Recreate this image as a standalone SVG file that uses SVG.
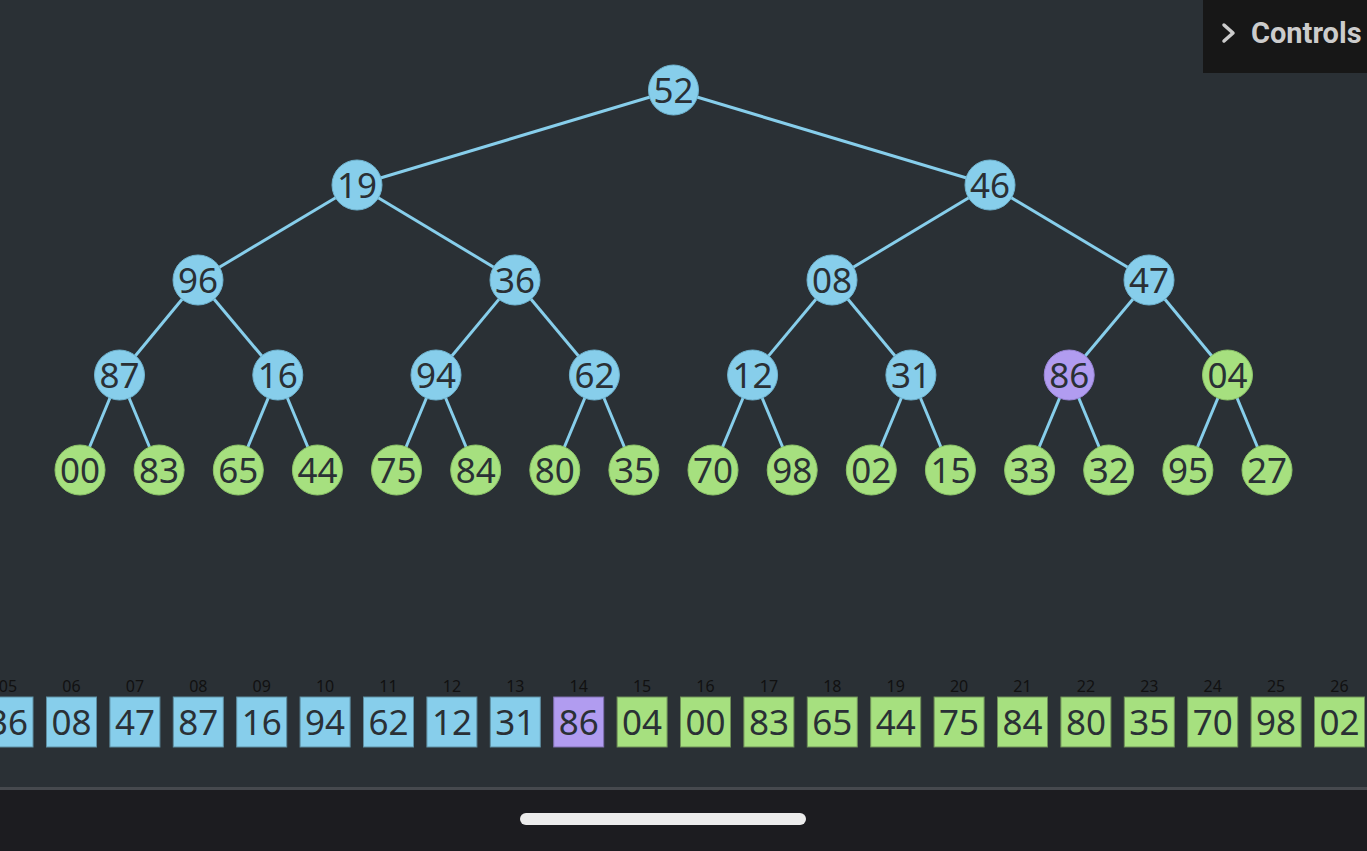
<svg xmlns="http://www.w3.org/2000/svg" width="1367" height="851" viewBox="0 0 1367 851">
<style>
.edge{stroke:#87ceeb;stroke-width:3;fill:none}
.nb{fill:#87ceeb;stroke:#6fb3cf;stroke-width:1}
.ng{fill:#a6e07f;stroke:#8cc468;stroke-width:1}
.np{fill:#b19cf0;stroke:#9a86d8;stroke-width:1}
.t{font-family:"Noto Sans","DejaVu Sans",sans-serif;font-size:35px;fill:#2a3035;text-anchor:middle}
.bb{fill:#87ceeb;stroke:#5e8fa3;stroke-width:1}
.bg{fill:#a6e07f;stroke:#6f8f58;stroke-width:1}
.bp{fill:#b19cf0;stroke:#7e6fb0;stroke-width:1}
.idx{font-family:"Noto Sans","DejaVu Sans",sans-serif;font-size:16px;fill:#111;text-anchor:middle}
</style>
<rect width="1367" height="851" fill="#2a3035"/>
<g id="connectors">
<line class="edge" x1="673.5" y1="90" x2="357" y2="185"/>
<line class="edge" x1="673.5" y1="90" x2="990" y2="185"/>
<line class="edge" x1="357" y1="185" x2="198" y2="280"/>
<line class="edge" x1="357" y1="185" x2="515" y2="280"/>
<line class="edge" x1="990" y1="185" x2="832" y2="280"/>
<line class="edge" x1="990" y1="185" x2="1149" y2="280"/>
<line class="edge" x1="198" y1="280" x2="119.5" y2="375"/>
<line class="edge" x1="198" y1="280" x2="277.8" y2="375"/>
<line class="edge" x1="515" y1="280" x2="436" y2="375"/>
<line class="edge" x1="515" y1="280" x2="594.4" y2="375"/>
<line class="edge" x1="832" y1="280" x2="752.6" y2="375"/>
<line class="edge" x1="832" y1="280" x2="910.9" y2="375"/>
<line class="edge" x1="1149" y1="280" x2="1069.2" y2="375"/>
<line class="edge" x1="1149" y1="280" x2="1227.5" y2="375"/>
<line class="edge" x1="119.5" y1="375" x2="80" y2="470"/>
<line class="edge" x1="119.5" y1="375" x2="159.1" y2="470"/>
<line class="edge" x1="277.8" y1="375" x2="238.3" y2="470"/>
<line class="edge" x1="277.8" y1="375" x2="317.4" y2="470"/>
<line class="edge" x1="436" y1="375" x2="396.5" y2="470"/>
<line class="edge" x1="436" y1="375" x2="475.7" y2="470"/>
<line class="edge" x1="594.4" y1="375" x2="554.8" y2="470"/>
<line class="edge" x1="594.4" y1="375" x2="633.9" y2="470"/>
<line class="edge" x1="752.6" y1="375" x2="713" y2="470"/>
<line class="edge" x1="752.6" y1="375" x2="792.2" y2="470"/>
<line class="edge" x1="910.9" y1="375" x2="871.3" y2="470"/>
<line class="edge" x1="910.9" y1="375" x2="950.4" y2="470"/>
<line class="edge" x1="1069.2" y1="375" x2="1029.6" y2="470"/>
<line class="edge" x1="1069.2" y1="375" x2="1108.7" y2="470"/>
<line class="edge" x1="1227.5" y1="375" x2="1187.9" y2="470"/>
<line class="edge" x1="1227.5" y1="375" x2="1267" y2="470"/>
</g>
<g id="n0"><circle class="nb" cx="673.5" cy="90" r="25"/><text class="t" x="673.5" y="102.5">52</text></g>
<g id="n1"><circle class="nb" cx="357" cy="185" r="25"/><text class="t" x="357" y="197.5">19</text></g>
<g id="n2"><circle class="nb" cx="990" cy="185" r="25"/><text class="t" x="990" y="197.5">46</text></g>
<g id="n3"><circle class="nb" cx="198" cy="280" r="25"/><text class="t" x="198" y="292.5">96</text></g>
<g id="n4"><circle class="nb" cx="515" cy="280" r="25"/><text class="t" x="515" y="292.5">36</text></g>
<g id="n5"><circle class="nb" cx="832" cy="280" r="25"/><text class="t" x="832" y="292.5">08</text></g>
<g id="n6"><circle class="nb" cx="1149" cy="280" r="25"/><text class="t" x="1149" y="292.5">47</text></g>
<g id="n7"><circle class="nb" cx="119.5" cy="375" r="25"/><text class="t" x="119.5" y="387.5">87</text></g>
<g id="n8"><circle class="nb" cx="277.8" cy="375" r="25"/><text class="t" x="277.8" y="387.5">16</text></g>
<g id="n9"><circle class="nb" cx="436" cy="375" r="25"/><text class="t" x="436" y="387.5">94</text></g>
<g id="n10"><circle class="nb" cx="594.4" cy="375" r="25"/><text class="t" x="594.4" y="387.5">62</text></g>
<g id="n11"><circle class="nb" cx="752.6" cy="375" r="25"/><text class="t" x="752.6" y="387.5">12</text></g>
<g id="n12"><circle class="nb" cx="910.9" cy="375" r="25"/><text class="t" x="910.9" y="387.5">31</text></g>
<g id="n13"><circle class="np" cx="1069.2" cy="375" r="25"/><text class="t" x="1069.2" y="387.5">86</text></g>
<g id="n14"><circle class="ng" cx="1227.5" cy="375" r="25"/><text class="t" x="1227.5" y="387.5">04</text></g>
<g id="n15"><circle class="ng" cx="80" cy="470" r="25"/><text class="t" x="80" y="482.5">00</text></g>
<g id="n16"><circle class="ng" cx="159.1" cy="470" r="25"/><text class="t" x="159.1" y="482.5">83</text></g>
<g id="n17"><circle class="ng" cx="238.3" cy="470" r="25"/><text class="t" x="238.3" y="482.5">65</text></g>
<g id="n18"><circle class="ng" cx="317.4" cy="470" r="25"/><text class="t" x="317.4" y="482.5">44</text></g>
<g id="n19"><circle class="ng" cx="396.5" cy="470" r="25"/><text class="t" x="396.5" y="482.5">75</text></g>
<g id="n20"><circle class="ng" cx="475.7" cy="470" r="25"/><text class="t" x="475.7" y="482.5">84</text></g>
<g id="n21"><circle class="ng" cx="554.8" cy="470" r="25"/><text class="t" x="554.8" y="482.5">80</text></g>
<g id="n22"><circle class="ng" cx="633.9" cy="470" r="25"/><text class="t" x="633.9" y="482.5">35</text></g>
<g id="n23"><circle class="ng" cx="713" cy="470" r="25"/><text class="t" x="713" y="482.5">70</text></g>
<g id="n24"><circle class="ng" cx="792.2" cy="470" r="25"/><text class="t" x="792.2" y="482.5">98</text></g>
<g id="n25"><circle class="ng" cx="871.3" cy="470" r="25"/><text class="t" x="871.3" y="482.5">02</text></g>
<g id="n26"><circle class="ng" cx="950.4" cy="470" r="25"/><text class="t" x="950.4" y="482.5">15</text></g>
<g id="n27"><circle class="ng" cx="1029.6" cy="470" r="25"/><text class="t" x="1029.6" y="482.5">33</text></g>
<g id="n28"><circle class="ng" cx="1108.7" cy="470" r="25"/><text class="t" x="1108.7" y="482.5">32</text></g>
<g id="n29"><circle class="ng" cx="1187.9" cy="470" r="25"/><text class="t" x="1187.9" y="482.5">95</text></g>
<g id="n30"><circle class="ng" cx="1267" cy="470" r="25"/><text class="t" x="1267" y="482.5">27</text></g>
<g id="array">
<g id="a05"><text class="idx" x="8" y="692">05</text><rect class="bb" x="-17" y="697" width="50" height="50"/><text class="t" x="8" y="735">36</text></g>
<g id="a06"><text class="idx" x="71.5" y="692">06</text><rect class="bb" x="46.5" y="697" width="50" height="50"/><text class="t" x="71.5" y="735">08</text></g>
<g id="a07"><text class="idx" x="134.9" y="692">07</text><rect class="bb" x="109.9" y="697" width="50" height="50"/><text class="t" x="134.9" y="735">47</text></g>
<g id="a08"><text class="idx" x="198.3" y="692">08</text><rect class="bb" x="173.3" y="697" width="50" height="50"/><text class="t" x="198.3" y="735">87</text></g>
<g id="a09"><text class="idx" x="261.7" y="692">09</text><rect class="bb" x="236.7" y="697" width="50" height="50"/><text class="t" x="261.7" y="735">16</text></g>
<g id="a10"><text class="idx" x="325.1" y="692">10</text><rect class="bb" x="300.1" y="697" width="50" height="50"/><text class="t" x="325.1" y="735">94</text></g>
<g id="a11"><text class="idx" x="388.5" y="692">11</text><rect class="bb" x="363.5" y="697" width="50" height="50"/><text class="t" x="388.5" y="735">62</text></g>
<g id="a12"><text class="idx" x="451.9" y="692">12</text><rect class="bb" x="426.9" y="697" width="50" height="50"/><text class="t" x="451.9" y="735">12</text></g>
<g id="a13"><text class="idx" x="515.3" y="692">13</text><rect class="bb" x="490.3" y="697" width="50" height="50"/><text class="t" x="515.3" y="735">31</text></g>
<g id="a14"><text class="idx" x="578.7" y="692">14</text><rect class="bp" x="553.7" y="697" width="50" height="50"/><text class="t" x="578.7" y="735">86</text></g>
<g id="a15"><text class="idx" x="642.1" y="692">15</text><rect class="bg" x="617.1" y="697" width="50" height="50"/><text class="t" x="642.1" y="735">04</text></g>
<g id="a16"><text class="idx" x="705.5" y="692">16</text><rect class="bg" x="680.5" y="697" width="50" height="50"/><text class="t" x="705.5" y="735">00</text></g>
<g id="a17"><text class="idx" x="768.9" y="692">17</text><rect class="bg" x="743.9" y="697" width="50" height="50"/><text class="t" x="768.9" y="735">83</text></g>
<g id="a18"><text class="idx" x="832.3" y="692">18</text><rect class="bg" x="807.3" y="697" width="50" height="50"/><text class="t" x="832.3" y="735">65</text></g>
<g id="a19"><text class="idx" x="895.7" y="692">19</text><rect class="bg" x="870.7" y="697" width="50" height="50"/><text class="t" x="895.7" y="735">44</text></g>
<g id="a20"><text class="idx" x="959.1" y="692">20</text><rect class="bg" x="934.1" y="697" width="50" height="50"/><text class="t" x="959.1" y="735">75</text></g>
<g id="a21"><text class="idx" x="1022.5" y="692">21</text><rect class="bg" x="997.5" y="697" width="50" height="50"/><text class="t" x="1022.5" y="735">84</text></g>
<g id="a22"><text class="idx" x="1085.9" y="692">22</text><rect class="bg" x="1060.9" y="697" width="50" height="50"/><text class="t" x="1085.9" y="735">80</text></g>
<g id="a23"><text class="idx" x="1149.3" y="692">23</text><rect class="bg" x="1124.3" y="697" width="50" height="50"/><text class="t" x="1149.3" y="735">35</text></g>
<g id="a24"><text class="idx" x="1212.7" y="692">24</text><rect class="bg" x="1187.7" y="697" width="50" height="50"/><text class="t" x="1212.7" y="735">70</text></g>
<g id="a25"><text class="idx" x="1276.1" y="692">25</text><rect class="bg" x="1251.1" y="697" width="50" height="50"/><text class="t" x="1276.1" y="735">98</text></g>
<g id="a26"><text class="idx" x="1339.5" y="692">26</text><rect class="bg" x="1314.5" y="697" width="50" height="50"/><text class="t" x="1339.5" y="735">02</text></g>
</g>
<g id="controls">
<rect x="1203" y="0" width="164" height="73" fill="#171717"/>
<path d="M1224 25 L1233 33 L1224 41" fill="none" stroke="#cccccc" stroke-width="3.5" stroke-linecap="round" stroke-linejoin="round"/>
<text x="1251" y="43" font-family="Roboto,'Liberation Sans',sans-serif" font-size="29" font-weight="bold" fill="#cccccc">Controls</text>
</g>
<g id="bottombar">
<rect x="0" y="788" width="1367" height="63" fill="#1c1c20"/>
<rect x="0" y="787" width="1367" height="3" fill="#46494e"/>
<rect x="520" y="813" width="286" height="12" rx="6" fill="#ececec"/>
</g>
</svg>
